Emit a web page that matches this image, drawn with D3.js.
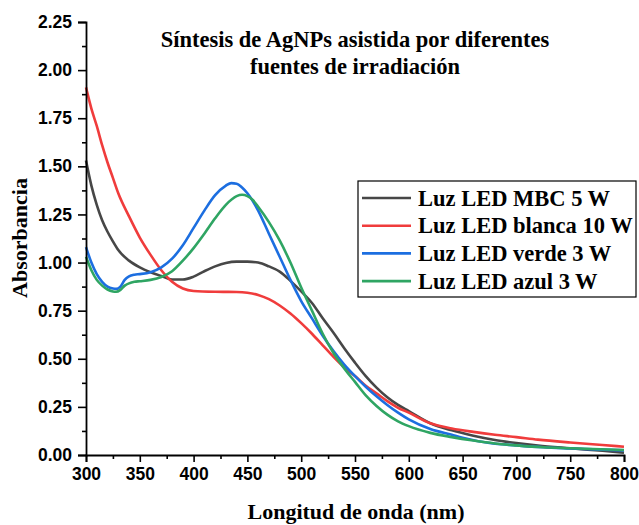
<!DOCTYPE html>
<html>
<head>
<meta charset="utf-8">
<script src="https://cdn.jsdelivr.net/npm/d3@7"></script>
<style>
  body { margin: 0; background: #fff; }
  svg { display: block; }
</style>
</head>
<body>
<div id="chart"></div>
<script>
// wavelengths (nm) for each series
const wlBlack = [300, 305, 310, 315, 320, 325, 330, 340, 350, 360, 370, 380, 390, 400, 410, 420, 430, 440, 450, 460, 470, 480, 490, 500, 510, 520, 530, 540, 550, 560, 570, 580, 590, 600, 620, 640, 660, 680, 700, 720, 750, 780, 800];
const absBlack = [1.53, 1.40, 1.30, 1.22, 1.16, 1.11, 1.065, 1.01, 0.975, 0.95, 0.93, 0.912, 0.912, 0.927, 0.955, 0.98, 0.998, 1.005, 1.005, 1.0, 0.98, 0.953, 0.905, 0.85, 0.79, 0.71, 0.635, 0.555, 0.48, 0.41, 0.35, 0.30, 0.26, 0.228, 0.165, 0.128, 0.1, 0.078, 0.062, 0.049, 0.035, 0.022, 0.012];

const wlRed = [300, 305, 310, 315, 320, 325, 330, 340, 350, 360, 370, 380, 390, 400, 420, 440, 450, 460, 470, 480, 490, 500, 510, 520, 530, 540, 550, 560, 570, 580, 590, 600, 620, 640, 660, 680, 700, 720, 750, 780, 800];
const absRed = [1.91, 1.80, 1.71, 1.61, 1.52, 1.44, 1.36, 1.24, 1.13, 1.04, 0.96, 0.90, 0.865, 0.852, 0.848, 0.847, 0.843, 0.832, 0.81, 0.777, 0.735, 0.685, 0.63, 0.57, 0.51, 0.455, 0.41, 0.36, 0.32, 0.28, 0.245, 0.22, 0.165, 0.138, 0.12, 0.105, 0.093, 0.08, 0.065, 0.052, 0.043];

const wlBlue = [300, 305, 310, 315, 320, 325, 328, 332, 336, 340, 345, 350, 360, 370, 380, 390, 400, 410, 420, 430, 435, 440, 445, 450, 455, 460, 470, 480, 490, 500, 510, 520, 530, 540, 550, 560, 570, 580, 590, 600, 620, 640, 650, 675, 700, 725, 750, 800];
const absBlue = [1.08, 1.0, 0.94, 0.9, 0.875, 0.865, 0.863, 0.875, 0.91, 0.928, 0.937, 0.94, 0.95, 0.975, 1.02, 1.09, 1.18, 1.27, 1.35, 1.40, 1.413, 1.41, 1.39, 1.36, 1.32, 1.27, 1.15, 1.03, 0.91, 0.80, 0.71, 0.62, 0.54, 0.47, 0.41, 0.355, 0.305, 0.26, 0.22, 0.185, 0.135, 0.105, 0.09, 0.062, 0.05, 0.04, 0.034, 0.024];

const wlGreen = [300, 305, 310, 315, 320, 325, 328, 332, 336, 340, 345, 350, 360, 370, 380, 390, 400, 410, 420, 430, 440, 445, 450, 455, 460, 470, 480, 490, 500, 510, 520, 530, 540, 550, 560, 570, 580, 590, 600, 620, 640, 660, 680, 700, 725, 750, 800];
const absGreen = [1.03, 0.96, 0.91, 0.88, 0.86, 0.85, 0.848, 0.858, 0.88, 0.892, 0.9, 0.903, 0.91, 0.925, 0.955, 1.01, 1.075, 1.15, 1.23, 1.30, 1.345, 1.352, 1.345, 1.325, 1.29, 1.21, 1.115, 1.0, 0.87, 0.75, 0.63, 0.53, 0.45, 0.38, 0.31, 0.255, 0.21, 0.175, 0.15, 0.115, 0.093, 0.075, 0.06, 0.05, 0.04, 0.035, 0.026];

const seriesNames = ['Luz LED MBC 5 W', 'Luz LED blanca 10 W', 'Luz LED verde 3 W', 'Luz LED azul 3 W'];
const seriesColors = ['#474747', '#f03c3c', '#1c6ee0', '#2fa563'];
const xTicks = [300, 350, 400, 450, 500, 550, 600, 650, 700, 750, 800];
const yTicks = [0, 0.25, 0.5, 0.75, 1.0, 1.25, 1.5, 1.75, 2.0, 2.25];

const titleLines = ['Síntesis de AgNPs asistida por diferentes', 'fuentes de irradiación'];
const xTitle = 'Longitud de onda (nm)';
const yTitle = 'Absorbancia';

const width = 639;
const height = 525;
const margin = { top: 22, right: 15, bottom: 70, left: 86 };

const svg = d3.select('#chart')
  .append('svg')
  .attr('width', width)
  .attr('height', height);

const x = d3.scaleLinear().domain([300, 800]).range([margin.left, width - margin.right]);
const y = d3.scaleLinear().domain([0, 2.25]).range([height - margin.bottom, margin.top]);

const series = [
  { wl: wlBlack, abs: absBlack },
  { wl: wlRed, abs: absRed },
  { wl: wlBlue, abs: absBlue },
  { wl: wlGreen, abs: absGreen },
].map((s, i) => ({
  name: seriesNames[i],
  color: seriesColors[i],
  points: s.wl.map((w, j) => [w, s.abs[j]]),
}));

const line = d3.line()
  .x(d => x(d[0]))
  .y(d => y(d[1]))
  .curve(d3.curveMonotoneX);

svg.append('g')
  .selectAll('path')
  .data(series)
  .join('path')
  .attr('d', d => line(d.points))
  .attr('fill', 'none')
  .attr('stroke', d => d.color)
  .attr('stroke-width', 2.6);

// axes
const tickFont = 'bold 17.5px "Liberation Sans", Arial, sans-serif';

const xAxis = svg.append('g')
  .attr('transform', `translate(0,${y(0)})`)
  .call(d3.axisBottom(x).tickValues(xTicks).tickSize(7).tickPadding(6).tickFormat(d3.format('d')));
const xMinor = svg.append('g')
  .attr('transform', `translate(0,${y(0)})`)
  .call(d3.axisBottom(x).tickValues(d3.range(325, 800, 50)).tickSize(4).tickFormat(''));

const yAxis = svg.append('g')
  .attr('transform', `translate(${x(300)},0)`)
  .call(d3.axisLeft(y).tickValues(yTicks).tickSize(8).tickPadding(6).tickFormat(d3.format('.2f')));
const yMinor = svg.append('g')
  .attr('transform', `translate(${x(300)},0)`)
  .call(d3.axisLeft(y).tickValues(d3.range(0.125, 2.25, 0.25)).tickSize(4).tickFormat(''));

[xAxis, xMinor, yAxis, yMinor].forEach(g => {
  g.selectAll('path, line').attr('stroke', '#000').attr('stroke-width', 1.6);
  g.select('.domain').attr('stroke-width', 1.8);
  g.selectAll('text').style('font', tickFont).attr('fill', '#000');
});
xMinor.select('.domain').remove();
yMinor.select('.domain').remove();

// titles
const serif = '"Liberation Serif", "Times New Roman", serif';

svg.append('g')
  .selectAll('text')
  .data(titleLines)
  .join('text')
  .attr('x', 355)
  .attr('y', (d, i) => 47 + i * 27)
  .attr('text-anchor', 'middle')
  .style('font', `bold 22.5px ${serif}`)
  .text(d => d);

svg.append('text')
  .attr('x', 356)
  .attr('y', 519)
  .attr('text-anchor', 'middle')
  .style('font', `bold 22px ${serif}`)
  .text(xTitle);

svg.append('text')
  .attr('transform', `translate(27,238) rotate(-90)`)
  .attr('text-anchor', 'middle')
  .style('font', `bold 22px ${serif}`)
  .text(yTitle);

// legend
const legend = svg.append('g').attr('transform', 'translate(358,181)');
legend.append('rect')
  .attr('width', 278)
  .attr('height', 116)
  .attr('fill', '#fff')
  .attr('stroke', '#000')
  .attr('stroke-width', 1.2);

const items = legend.selectAll('g.item')
  .data(series)
  .join('g')
  .attr('class', 'item')
  .attr('transform', (d, i) => `translate(0,${17 + i * 27.7})`);
items.append('line')
  .attr('x1', 4).attr('x2', 53)
  .attr('stroke', d => d.color)
  .attr('stroke-width', 2.6);
items.append('text')
  .attr('x', 60)
  .attr('y', 7.5)
  .style('font', `bold 22.5px ${serif}`)
  .text(d => d.name);
</script>
</body>
</html>
